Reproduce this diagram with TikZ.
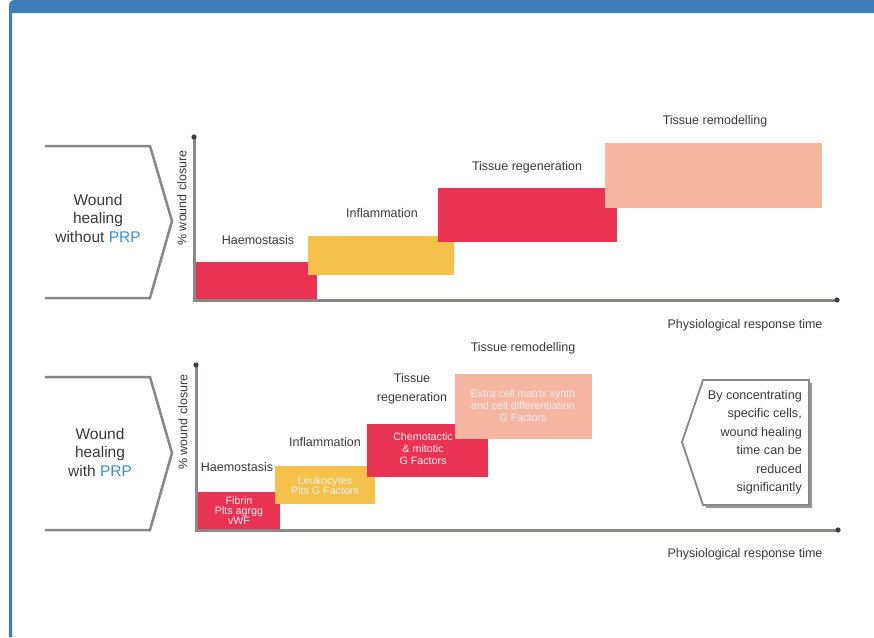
\documentclass[tikz,border=0pt]{standalone}
\usepackage{fontspec}
\setmainfont{Liberation Sans}
\definecolor{hdrblue}{HTML}{3F7DBA}
\definecolor{barred}{HTML}{EA3352}
\definecolor{baryel}{HTML}{F4C24B}
\definecolor{barsal}{HTML}{F6B6A2}
\definecolor{txt}{HTML}{3A3A3A}
\definecolor{prp}{HTML}{3D90D3}
\definecolor{axisgray}{HTML}{8C8888}
\definecolor{chevgray}{HTML}{878787}
\definecolor{bartxt}{HTML}{FDEFEF}
\begin{document}
\begin{tikzpicture}[x=1pt,y=-1pt,
  lab/.style={text=txt, font=\fontsize{12.5}{19}\selectfont, inner sep=0pt, align=center},
  big/.style={text=txt, font=\fontsize{15.5}{18.5}\selectfont, inner sep=0pt, align=center},
  bar/.style={draw=none, inner sep=0pt, text=bartxt, align=center, font=\fontsize{10.7}{12}\selectfont},
  axisline/.style={draw=axisgray, line width=3pt},
  axisdot/.style={fill=black!75, draw=none},
  chev/.style={draw=chevgray, line width=2.5pt, line join=miter},
  note/.style={text=txt, font=\fontsize{12.6}{18.5}\selectfont, inner sep=0pt, align=right}]
\useasboundingbox (0,0) rectangle (874,637);
\fill[white] (0,0) rectangle (874,637);
% frame: header and left rule
\fill[hdrblue] (9,637) -- (9,6) .. controls (9,2) and (11,0) .. (15,0) -- (874,0) -- (874,13) -- (12,13) -- (12,637) -- cycle;

% ---------- top panel ----------
\draw[chev] (45,146) -- (150,146) -- (172,221) -- (150,298) -- (45,298);
\node[big] (w1) at (98,218) {Wound\\healing\\without \textcolor{prp}{PRP}};

\node[bar, fill=barred, minimum width=123pt, minimum height=38pt, anchor=north west] (h1) at (194,262) {};
\node[bar, fill=baryel, minimum width=146pt, minimum height=39pt, anchor=north west] (i1) at (308,236) {};
\node[bar, fill=barred, minimum width=179pt, minimum height=54pt, anchor=north west] (r1) at (438,188) {};
\node[bar, fill=barsal, minimum width=217pt, minimum height=65pt, anchor=north west] (m1) at (605,143) {};

\coordinate (y1) at (194,137);
\coordinate (o1) at (194,300);
\coordinate (x1) at (837,300);
\draw[axisline] (y1) -- (o1) -- (x1);
\fill[axisdot] (y1) circle (2.6pt);
\fill[axisdot] (x1) circle (2.6pt);

\node[lab, rotate=90] (yl1) at (182,198) {\% wound closure};
\node[lab] (lh1) at (258,240) {Haemostasis};
\node[lab] (li1) at (382,213) {Inflammation};
\node[lab] (lr1) at (527,167) {Tissue regeneration};
\node[lab] (lm1) at (715,121) {Tissue remodelling};
\node[lab] (xl1) at (745,325) {Physiological response time};

% ---------- bottom panel ----------
\draw[chev] (45,377) -- (150,377) -- (172,453) -- (150,530) -- (45,530);
\node[big] (w2) at (100,452) {Wound\\healing\\with \textcolor{prp}{PRP}};

\node[bar, fill=barred, minimum width=82pt, minimum height=38pt, anchor=north west] (h2) at (198,492) {};
\node[bar] (h2t) at (239,511) {Fibrin\\[-2pt]Plts agrgg\\[-2pt]vWF};
\node[bar, fill=baryel, minimum width=100pt, minimum height=38pt, anchor=north west] (i2) at (275,466) {};
\node[bar] (i2t) at (325,486) {Leukocytes\\[-2pt]Plts G Factors};
\node[bar, fill=barred, minimum width=121pt, minimum height=53pt, anchor=north west] (r2) at (367,424) {};
\node[bar] (r2t) at (423,449) {Chemotactic\\\& mitotic\\G Factors};
\node[bar, fill=barsal, minimum width=137pt, minimum height=65pt, anchor=north west] (m2) at (455,374) {};
\node[bar] (m2t) at (523,406) {Extra cell matrix synth\\and cell differentiation\\G Factors};

\coordinate (y2) at (196,365);
\coordinate (o2) at (196,530);
\coordinate (x2) at (838,530);
\draw[axisline] (y2) -- (o2) -- (x2);
\fill[axisdot] (y2) circle (2.6pt);
\fill[axisdot] (x2) circle (2.6pt);

\node[lab, rotate=90] (yl2) at (183,422) {\% wound closure};
\node[lab] (lh2) at (237,467) {Haemostasis};
\node[lab] (li2) at (325,442) {Inflammation};
\node[lab] (lr2) at (412,389) {Tissue\\regeneration};
\node[lab] (lm2) at (523,348) {Tissue remodelling};
\node[lab] (xl2) at (745,554) {Physiological response time};

% note box pointing left
\fill[black!40] (706,383) -- (812,383) -- (812,508) -- (706,508) -- (685,445) -- cycle;
\filldraw[fill=white, draw=chevgray, line width=1.8pt, line join=miter] (703,380) -- (809,380) -- (809,505) -- (703,505) -- (682,442) -- cycle;
\node[note, anchor=east] (nt) at (802,442) {By concentrating\\specific cells,\\wound healing\\time can be\\reduced\\significantly};
\end{tikzpicture}
\end{document}
